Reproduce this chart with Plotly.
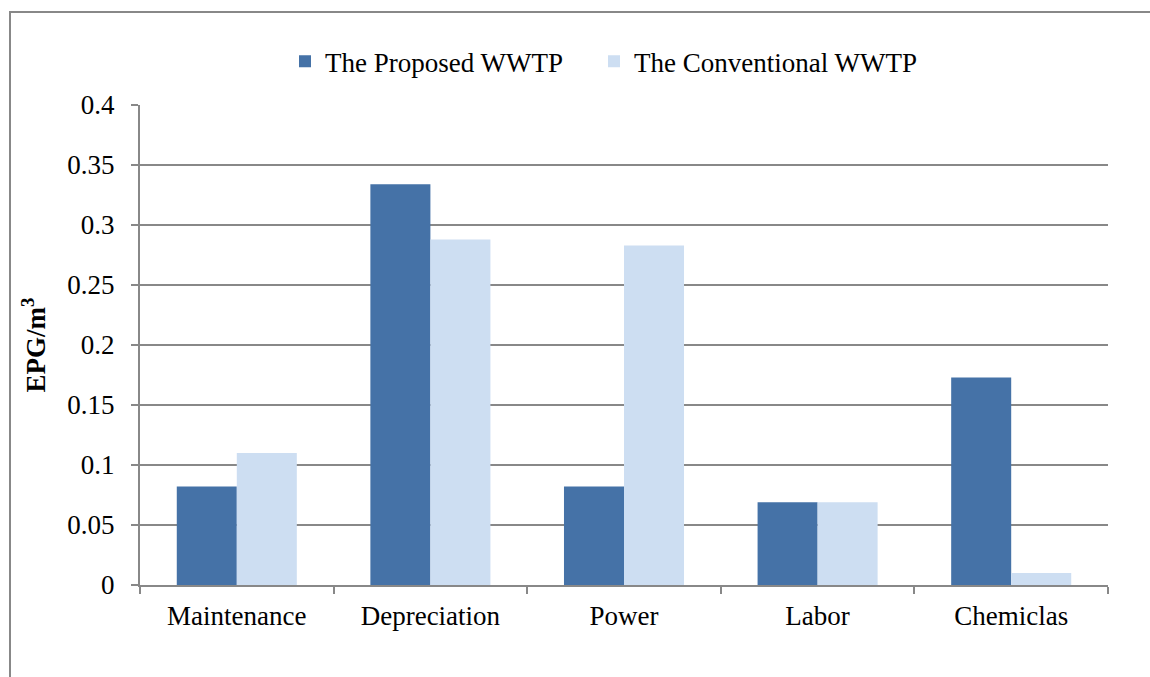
import plotly.graph_objects as go

categories = ["Maintenance", "Depreciation", "Power", "Labor", "Chemiclas"]
proposed = [0.082, 0.334, 0.082, 0.069, 0.173]
conventional = [0.11, 0.288, 0.283, 0.069, 0.01]
series_names = ["The Proposed WWTP", "The Conventional WWTP"]
y_ticks = [0, 0.05, 0.1, 0.15, 0.2, 0.25, 0.3, 0.35, 0.4]
y_tick_labels = ["0", "0.05", "0.1", "0.15", "0.2", "0.25", "0.3", "0.35", "0.4"]

FONT = "Liberation Serif, Times New Roman, serif"
FS = 27

fig = go.Figure()
fig.add_trace(go.Bar(x=categories, y=proposed, name=series_names[0], legend="legend",
                     marker=dict(color="#4572A7", line=dict(width=0))))
fig.add_trace(go.Bar(x=categories, y=conventional, name=series_names[1], legend="legend2",
                     marker=dict(color="#CDDEF2", line=dict(width=0))))

legend_common = dict(orientation="h", xanchor="left", y=1.09, yanchor="middle",
                     font=dict(family=FONT, size=FS, color="black"),
                     itemwidth=30, bgcolor="rgba(0,0,0,0)")

fig.update_layout(
    width=1150, height=677,
    margin=dict(l=140, r=42, t=105, b=92),
    paper_bgcolor="white", plot_bgcolor="white",
    barmode="group", bargap=0.38, bargroupgap=0,
    font=dict(family=FONT, size=FS, color="black"),
    showlegend=True,
    legend=dict(x=(285 - 140) / 968, **legend_common),
    legend2=dict(x=(594 - 140) / 968, **legend_common),
    xaxis=dict(showline=True, linecolor="#888888", linewidth=2,
               ticks="outside", tickson="boundaries", ticklen=7, tickcolor="#888888", tickwidth=2,
               ticklabelstandoff=6,
               showgrid=False, tickfont=dict(family=FONT, size=FS, color="black")),
    yaxis=dict(range=[0, 0.4], tickvals=y_ticks, ticktext=y_tick_labels,
               showline=True, linecolor="#888888", linewidth=2,
               ticks="outside", ticklen=7, tickcolor="#888888", tickwidth=2,
               ticklabelstandoff=11,
               showgrid=True, gridcolor="#888888", gridwidth=1.5, zeroline=False,
               tickfont=dict(family=FONT, size=FS, color="black"),
               title=dict(text="<b>EPG/m<sup>3</sup></b>", font=dict(family=FONT, size=FS, color="black"),
                          standoff=14)),
    shapes=[dict(type="rect", xref="paper", yref="paper",
                 x0=(10 - 140) / 968, x1=(1170 - 140) / 968,
                 y0=(585 - 700) / 480, y1=(585 - 12) / 480,
                 line=dict(color="#888888", width=2), fillcolor="rgba(0,0,0,0)", layer="below")],
)

fig.write_html("out.html", config={"displayModeBar": False},
               post_script="document.body.style.margin='0';")
